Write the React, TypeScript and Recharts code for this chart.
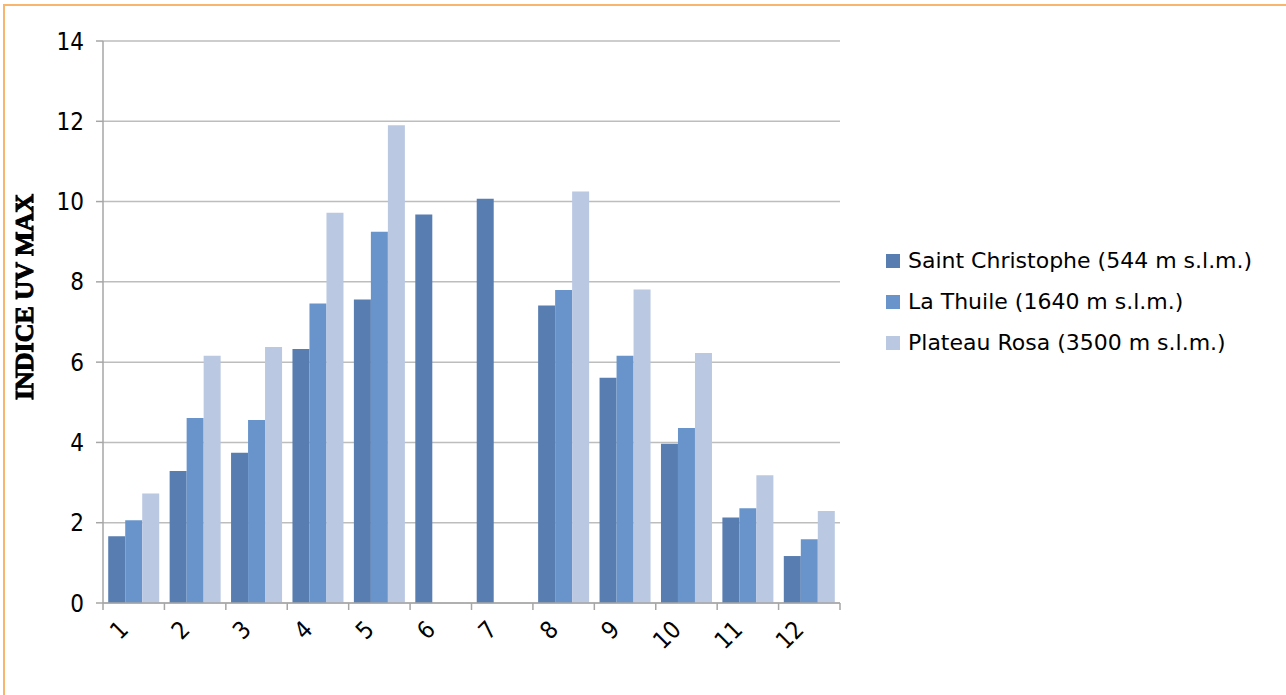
import React from "react";
import { Bar, BarChart, CartesianGrid, XAxis, YAxis } from "recharts";

const MONTHS = ["1", "2", "3", "4", "5", "6", "7", "8", "9", "10", "11", "12"];
const SAINT_CHRISTOPHE = [1.66, 3.29, 3.74, 6.33, 7.56, 9.68, 10.07, 7.41, 5.61, 3.97, 2.13, 1.17];
const LA_THUILE = [2.06, 4.61, 4.56, 7.46, 9.25, null, null, 7.8, 6.16, 4.36, 2.36, 1.59];
const PLATEAU_ROSA = [2.73, 6.16, 6.38, 9.72, 11.9, null, null, 10.25, 7.81, 6.23, 3.18, 2.29];
const Y_TICKS = [0, 2, 4, 6, 8, 10, 12, 14];

const SERIES = [
  { key: "sc", name: "Saint Christophe (544 m s.l.m.)", color: "#587db1" },
  { key: "lt", name: "La Thuile (1640 m s.l.m.)", color: "#6994cb" },
  { key: "pr", name: "Plateau Rosa (3500 m s.l.m.)", color: "#bac8e2" },
];

const TICK_FONT = '"DejaVu Sans Condensed", "DejaVu Sans", sans-serif';
const LEGEND_FONT = '"DejaVu Sans", sans-serif';
const AXIS_COLOR = "#a6a6a6";

const CHART_W = 1286;
const CHART_H = 695;
const MARGIN = { top: 41, right: 446, left: 0, bottom: 0 };
const Y_AXIS_W = 103;
// half of one category band, used to put tick marks between the groups
const HALF_BAND = (CHART_W - MARGIN.right - Y_AXIS_W) / MONTHS.length / 2;

const data = MONTHS.map((month, i) => ({
  month,
  sc: SAINT_CHRISTOPHE[i],
  lt: LA_THUILE[i],
  pr: PLATEAU_ROSA[i],
}));

function MonthTick({ x, y, payload, index }: any) {
  const ax = x - 4;
  const ay = y + 20;
  const axisY = y - 8;
  return (
    <g>
      <line x1={x - HALF_BAND} y1={axisY} x2={x - HALF_BAND} y2={axisY + 7} stroke={AXIS_COLOR} strokeWidth={1.5} />
      {index === MONTHS.length - 1 && (
        <line x1={x + HALF_BAND} y1={axisY} x2={x + HALF_BAND} y2={axisY + 7} stroke={AXIS_COLOR} strokeWidth={1.5} />
      )}
      <text
        x={ax}
        y={ay}
        transform={`rotate(-45, ${ax}, ${ay})`}
        textAnchor="end"
        fontSize={24}
        fontFamily={TICK_FONT}
        fill="#000"
      >
        {payload.value}
      </text>
    </g>
  );
}

function AxisTitle({ viewBox }: any) {
  const cx = 24;
  const cy = viewBox.y + viewBox.height / 2 - 25;
  return (
    <text
      x={cx}
      y={cy}
      transform={`rotate(-90, ${cx}, ${cy})`}
      textAnchor="middle"
      dominantBaseline="central"
      fontSize={26}
      fontWeight="bold"
      fontFamily='"Liberation Serif", "DejaVu Serif", serif'
      stroke="#000"
      strokeWidth={1}
      fill="#000"
    >
      INDICE UV MAX
    </text>
  );
}

function SeriesLegend() {
  return (
    <div
      style={{
        position: "absolute",
        left: 886,
        top: 240,
        fontFamily: LEGEND_FONT,
        fontSize: 22,
        color: "#000",
      }}
    >
      {SERIES.map((s) => (
        <div key={s.key} style={{ display: "flex", alignItems: "center", height: 41 }}>
          <span
            style={{ width: 14, height: 14, background: s.color, marginRight: 8, display: "inline-block" }}
          />
          {s.name}
        </div>
      ))}
    </div>
  );
}

export default function App() {
  return (
    <div style={{ position: "absolute", left: 0, top: 0, width: CHART_W, height: CHART_H, background: "#fff" }}>
      <div
        style={{
          position: "absolute",
          left: 3,
          top: 4,
          width: 1283,
          height: 691,
          borderTop: "2px solid #f9b46e",
          borderLeft: "2px solid #f9b46e",
        }}
      />
      <BarChart
        width={CHART_W}
        height={CHART_H}
        data={data}
        margin={MARGIN}
        barCategoryGap="8.5%"
        barGap={0}
        style={{ position: "absolute", left: 0, top: 0 }}
      >
        <CartesianGrid vertical={false} stroke="#bdbdbd" strokeWidth={1.5} />
        <XAxis
          dataKey="month"
          height={92}
          tick={<MonthTick />}
          tickLine={false}
          interval={0}
          tickSize={0}
          tickMargin={8}
          stroke={AXIS_COLOR}
          strokeWidth={1.5}
        />
        <YAxis
          width={Y_AXIS_W}
          domain={[0, 14]}
          ticks={Y_TICKS}
          interval={0}
          tickSize={7}
          tickMargin={12}
          stroke={AXIS_COLOR}
          strokeWidth={1.5}
          tick={{ fill: "#000", fontSize: 24, fontFamily: TICK_FONT }}
          label={<AxisTitle />}
        />
        {SERIES.map((s) => (
          <Bar key={s.key} dataKey={s.key} name={s.name} fill={s.color} isAnimationActive={false} />
        ))}
      </BarChart>
      <SeriesLegend />
    </div>
  );
}
